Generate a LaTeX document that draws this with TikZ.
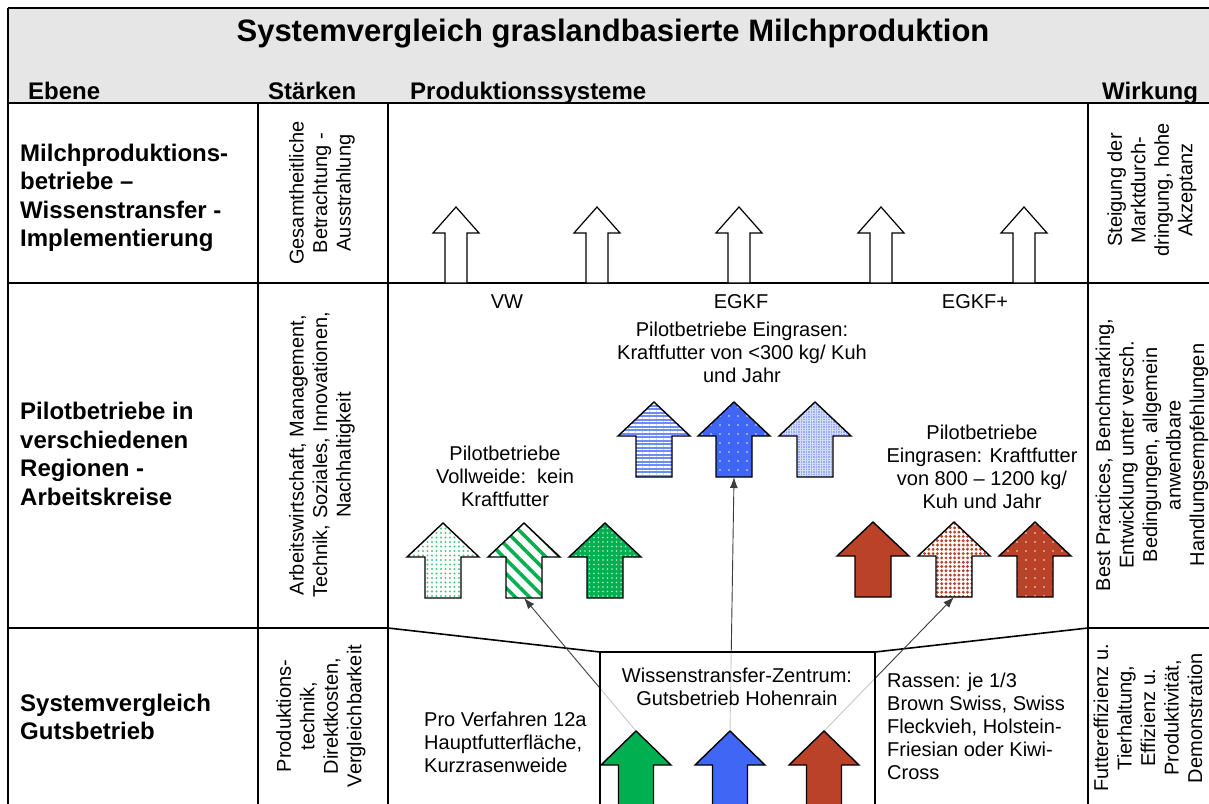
\documentclass[tikz,border=0pt]{standalone}
\usepackage{fontspec}
\setmainfont{Liberation Sans}
\usetikzlibrary{patterns.meta,arrows.meta}
\definecolor{gr}{RGB}{0,176,80}
\definecolor{bl}{RGB}{64,102,245}
\definecolor{rd}{RGB}{185,66,40}
\definecolor{hdgray}{RGB}{230,230,230}
\definecolor{cn}{RGB}{60,60,60}
\definecolor{ltblue}{RGB}{150,170,250}
\definecolor{midblue}{RGB}{110,140,248}
\tikzset{
 ttl/.style={font=\fontsize{31}{36}\selectfont\bfseries, inner sep=0, anchor=base},
 hdr/.style={font=\fontsize{24}{28}\selectfont\bfseries, inner sep=0, anchor=base west},
 lbl/.style={font=\fontsize{24}{28.5}\selectfont\bfseries, inner sep=0, anchor=west, align=left},
 txt/.style={font=\fontsize{20}{23}\selectfont, inner sep=0, align=center},
 ltxt/.style={font=\fontsize{20}{23}\selectfont, inner sep=0, align=left, anchor=west},
 rtxt/.style={font=\fontsize{20}{23.5}\selectfont, inner sep=0, align=center, rotate=90},
 gridline/.style={line width=1.6pt, black},
 conn/.style={draw=cn, line width=0.9pt, -{Latex[length=11pt,width=8pt]}},
 outl/.style={draw=black, line width=1.4pt},
 pics/uparr/.style args={#1/#2/#3/#4/#5}{code={
   \pgfmathsetmacro\arB{-(#4-#3)}
   \pgfmathsetmacro\arT{-#4}
   \fill[#5] (-#2,0) -- (-#2,\arB) -- (-#1,\arB) -- (0,\arT) -- (#1,\arB) -- (#2,\arB) -- (#2,0) -- cycle;
   \path[pic actions] (-#2,0) -- (-#2,\arB) -- (-#1,\arB) -- (0,\arT) -- (#1,\arB) -- (#2,\arB) -- (#2,0) -- cycle;
   \coordinate (-tip) at (0,\arT);
   \coordinate (-bot) at (0,0);
 }},
 wA/.style={outl, line width=1.2pt},
 gA/.style={outl, pattern={Dots[radius=1.1pt,distance=4.5pt]}, pattern color=gr!70},
 gB/.style={outl, pattern={Lines[angle=-45,distance=10pt,line width=3.5pt]}, pattern color=gr},
 gC/.style={outl, pattern={Dots[radius=0.9pt,distance=4.5pt]}, pattern color=white!75!gr},
 bA/.style={outl, pattern={Lines[angle=0,distance=3.5pt,line width=1.3pt]}, pattern color=white},
 bB/.style={outl, pattern={Dots[radius=0.9pt,distance=9pt]}, pattern color=white!85!bl},
 bC/.style={outl, pattern={Hatch[angle=0,distance=2.5pt,line width=0.5pt]}, pattern color=white!60!ltblue},
 rA/.style={outl},
 rB/.style={outl, pattern={Dots[radius=1.6pt,distance=4.3pt]}, pattern color=rd},
 rC/.style={outl, pattern={Dots[radius=0.9pt,distance=9pt]}, pattern color=white!85!rd},
}
\begin{document}
\begin{tikzpicture}[x=1pt,y=-1pt]
\useasboundingbox (0,0) rectangle (1209,803);
\clip (0,0) rectangle (1209,803);
\fill[white] (0,0) rectangle (1209,803);
% header
\fill[hdgray] (8,8) rectangle (1215,103);
\node[ttl] (title) at (613,41) {Systemvergleich graslandbasierte Milchproduktion};
\node[hdr] (hEbene) at (28,99) {Ebene};
\node[hdr] (hStaerken) at (268,99) {Stärken};
\node[hdr] (hProd) at (410,99) {Produktionssysteme};
\node[hdr] (hWirkung) at (1102,99) {Wirkung};
% grid
\draw[gridline] (8,8) -- (1215,8);
\draw[gridline] (8,8) -- (8,810);
\draw[gridline] (8,103) -- (1215,103);
\draw[gridline] (258,103) -- (258,810);
\draw[gridline] (388,103) -- (388,810);
\draw[gridline] (1088,103) -- (1088,810);
\draw[gridline] (8,283) -- (1215,283);
\draw[gridline] (8,628) -- (388,628) -- (600,652) -- (875,652) -- (1088,628) -- (1215,628);
% left labels
\node[lbl] (l1) at (20,198) {Milchproduktions-\\betriebe --\\Wissenstransfer -\\Implementierung};
\node[lbl] (l2) at (20,454) {Pilotbetriebe in\\verschiedenen\\Regionen -\\Arbeitskreise};
\node[lbl] (l3) at (20,717) {Systemvergleich\\Gutsbetrieb};
% Staerken
\node[rtxt] (s1) at (322,193) {Gesamtheitliche\\Betrachtung -\\Ausstrahlung};
\node[rtxt] (s2) at (322,455) {Arbeitswirtschaft, Management,\\Technik, Soziales, Innovationen,\\Nachhaltigkeit};
\node[rtxt] (s3) at (321,716) {Produktions-\\technik,\\Direktkosten,\\Vergleichbarkeit};
% Wirkung
\node[rtxt] (w1) at (1152,190) {Steigung der\\Marktdurch-\\dringung, hohe\\Akzeptanz};
\node[rtxt] (w2) at (1152,455) {Best Practices, Benchmarking,\\Entwicklung unter versch.\\Bedingungen, allgemein\\anwendbare\\Handlungsempfehlungen};
\node[rtxt] (w3) at (1148,718) {Futtereffizienz u.\\Tierhaltung,\\Effizienz u.\\Produktivität,\\Demonstration};
% row 1 white arrows
\foreach \i/\x in {1/456,2/597,3/739,4/881,5/1024}{
  \pic[wA] (wa\i) at (\x,283) {uparr=23/11/26/76/white};
}
% row 2 texts
\node[txt] (tVW) at (507,302) {VW};
\node[txt] (tEGKF) at (741,302) {EGKF};
\node[txt] (tEGKFp) at (975,302) {EGKF+};
\node[txt] (tEin) at (742,352) {Pilotbetriebe Eingrasen:\\Kraftfutter von <300 kg/ Kuh\\und Jahr};
\node[txt] (tVoll) at (505,476) {Pilotbetriebe\\Vollweide:\ \ kein\\Kraftfutter};
\node[txt] (tKF) at (982,467) {Pilotbetriebe\\Eingrasen: Kraftfutter\\von 800 -- 1200 kg/\\Kuh und Jahr};
% row 2 arrows
\pic[gA] (g1) at (443,598) {uparr=36/18/34/75/white};
\pic[gB] (g2) at (524,598) {uparr=36/18/34/75/white};
\pic[gC] (g3) at (605,598) {uparr=36/18/34/75/gr};
\pic[bA] (b1) at (654,477) {uparr=36/18/34/75/midblue};
\pic[bB] (b2) at (734,477) {uparr=36/18/34/75/bl};
\pic[bC] (b3) at (815,477) {uparr=36/18/34/75/ltblue};
\pic[rA] (r1) at (873,597) {uparr=36/18/34/75/rd};
\pic[rB] (r2) at (954,597) {uparr=36/18/34/75/white};
\pic[rC] (r3) at (1035,597) {uparr=36/18/34/75/rd};
% bottom arrow anchors (tips)
\coordinate (gbT) at (636,731);
\coordinate (bbT) at (730,731);
\coordinate (rbT) at (824,731);
% connectors
\draw[conn] (gbT) -- (g2-bot);
\draw[conn] (bbT) -- (b2-bot);
\draw[conn] (rbT) -- (r2-bot);
% knowledge transfer box
\fill[white, fill opacity=0.72] (600,652) rectangle (875,810);
\draw[gridline] (600,652) -- (600,810);
\draw[gridline] (875,652) -- (875,810);
\draw[gridline] (600,652) -- (875,652);
\node[txt] (tWZ) at (737,687) {Wissenstransfer-Zentrum:\\Gutsbetrieb Hohenrain};
\node[ltxt] (tPro) at (424,742) {Pro Verfahren 12a\\Hauptfutterfläche,\\Kurzrasenweide};
\node[ltxt] (tRas) at (887,726) {Rassen: je 1/3\\Brown Swiss, Swiss\\Fleckvieh, Holstein-\\Friesian oder Kiwi-\\Cross};
% bottom arrows
\pic[outl] (gb) at (636,835) {uparr=35/17.5/34/104/gr};
\pic[outl] (bb) at (730,835) {uparr=35/17.5/34/104/bl};
\pic[outl] (rb) at (824,835) {uparr=35/17.5/34/104/rd};
\end{tikzpicture}
\end{document}
